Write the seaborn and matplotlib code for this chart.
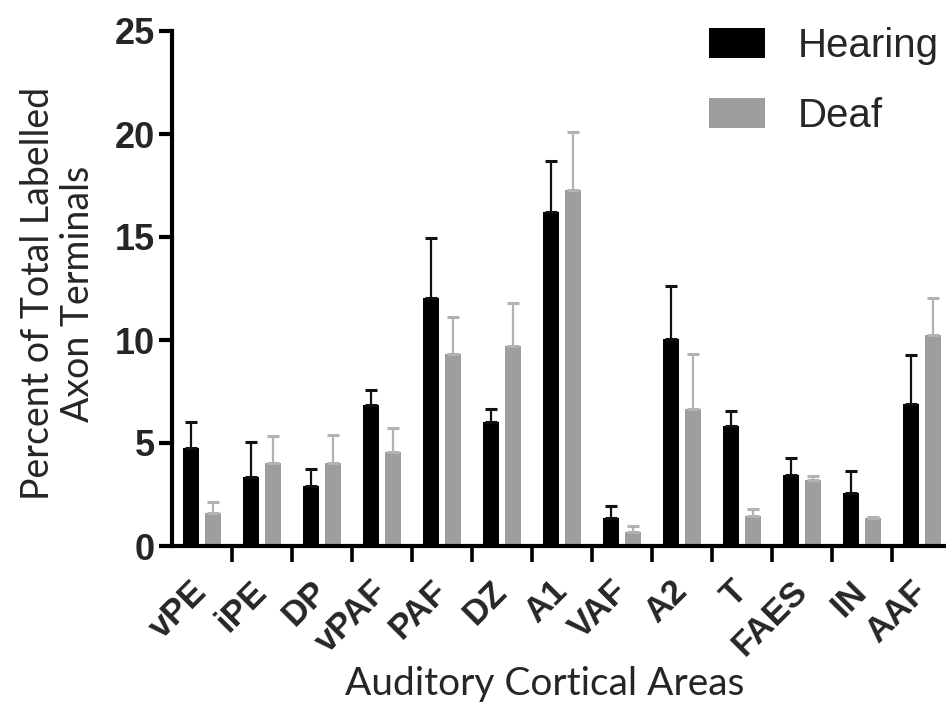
import numpy as np
import pandas as pd
import matplotlib
matplotlib.use("Agg")
import matplotlib.pyplot as plt
import seaborn as sns

areas = ["vPE", "iPE", "DP", "vPAF", "PAF", "DZ", "A1", "VAF", "A2", "T", "FAES", "IN", "AAF"]
hearing = [4.77, 3.35, 2.93, 6.85, 12.04, 6.03, 16.21, 1.37, 10.07, 5.81, 3.47, 2.55, 6.90]
hearing_err = [1.26, 1.69, 0.81, 0.72, 2.90, 0.62, 2.47, 0.56, 2.53, 0.72, 0.78, 1.08, 2.38]
deaf = [1.59, 4.02, 4.02, 4.56, 9.30, 9.70, 17.29, 0.67, 6.63, 1.46, 3.22, 1.37, 10.22]
deaf_err = [0.55, 1.34, 1.39, 1.19, 1.84, 2.08, 2.79, 0.30, 2.70, 0.33, 0.20, 0.04, 1.84]
groups = ["Hearing", "Deaf"]
yticks = [0, 5, 10, 15, 20, 25]

df = pd.DataFrame({
    "area": areas * 2,
    "group": ["Hearing"] * len(areas) + ["Deaf"] * len(areas),
    "value": hearing + deaf,
})

sns.set_style("ticks")
plt.rcParams["font.family"] = ["Liberation Sans", "DejaVu Sans"]

W, H = 946, 704
fig = plt.figure(figsize=(W / 100, H / 100), dpi=100)
ax_left, ax_right, ax_top, ax_bot = 172, 946, 31, 546
ax = fig.add_axes([ax_left / W, 1 - ax_bot / H, (ax_right - ax_left) / W, (ax_bot - ax_top) / H])

colors = {"Hearing": "#000000", "Deaf": "#9e9ea0"}
err_colors = {"Hearing": "#111111", "Deaf": "#b2b2b2"}
sns.barplot(data=df, x="area", y="value", hue="group", hue_order=groups, order=areas,
            palette=colors, saturation=1, errorbar=None, width=0.733, gap=0.30,
            linewidth=0, ax=ax)

errs = {"Hearing": hearing_err, "Deaf": deaf_err}
for cont, g in zip(ax.containers, groups):
    xs = [p.get_x() + p.get_width() / 2 for p in cont.patches]
    hs = [p.get_height() for p in cont.patches]
    e = errs[g]
    ax.errorbar(xs, hs, yerr=[np.zeros(len(e)), e], fmt="none", ecolor=err_colors[g],
                elinewidth=1.6, capsize=4, capthick=2.2, zorder=1)

ax.set_ylim(0, 25)
ax.set_xlim(-0.5, 12.4)
ax.set_yticks(yticks)
ax.set_yticklabels([str(t) for t in yticks], fontsize=26, fontweight="bold")

# x: labels at centers, tick marks at category boundaries
ax.set_xticks(range(len(areas)))
ax.set_xticklabels(areas, fontsize=25, fontweight="bold", rotation=45,
                   ha="right", va="center", rotation_mode="anchor")
ax.set_xticks(np.arange(0.5, len(areas) - 0.5, 1.0), minor=True)
ax.tick_params(axis="x", which="major", length=0, pad=29)
ax.tick_params(axis="x", which="minor", length=11.5, width=2.6, color="black")
ax.tick_params(axis="y", which="major", length=9.5, width=3, pad=3, color="black")

for s in ["top", "right"]:
    ax.spines[s].set_visible(False)
for s in ["left", "bottom"]:
    ax.spines[s].set_linewidth(3)
    ax.spines[s].set_color("black")

label_font = ["Lato", "DejaVu Sans"]
ax.set_ylabel("Percent of Total Labelled\nAxon Terminals", fontsize=27, family=label_font,
              linespacing=1.15)
ax.yaxis.set_label_coords((96 - ax_left) / (ax_right - ax_left), 0.49)
ax.set_xlabel("Auditory Cortical Areas", fontsize=28, family=label_font)
ax.xaxis.set_label_coords((545 - ax_left) / (ax_right - ax_left), (ax_bot - 666) / (ax_bot - ax_top))

handles, labels = ax.get_legend_handles_labels()
ax.legend(handles, labels, loc="upper left", bbox_to_anchor=(709 / W, 1 - 27 / H),
          bbox_transform=fig.transFigure, frameon=False, fontsize=29,
          handlelength=1.4, handleheight=0.76, handletextpad=0.8, labelspacing=0.8,
          borderpad=0, borderaxespad=0)

fig.savefig("out.png", dpi=100, facecolor="white")
